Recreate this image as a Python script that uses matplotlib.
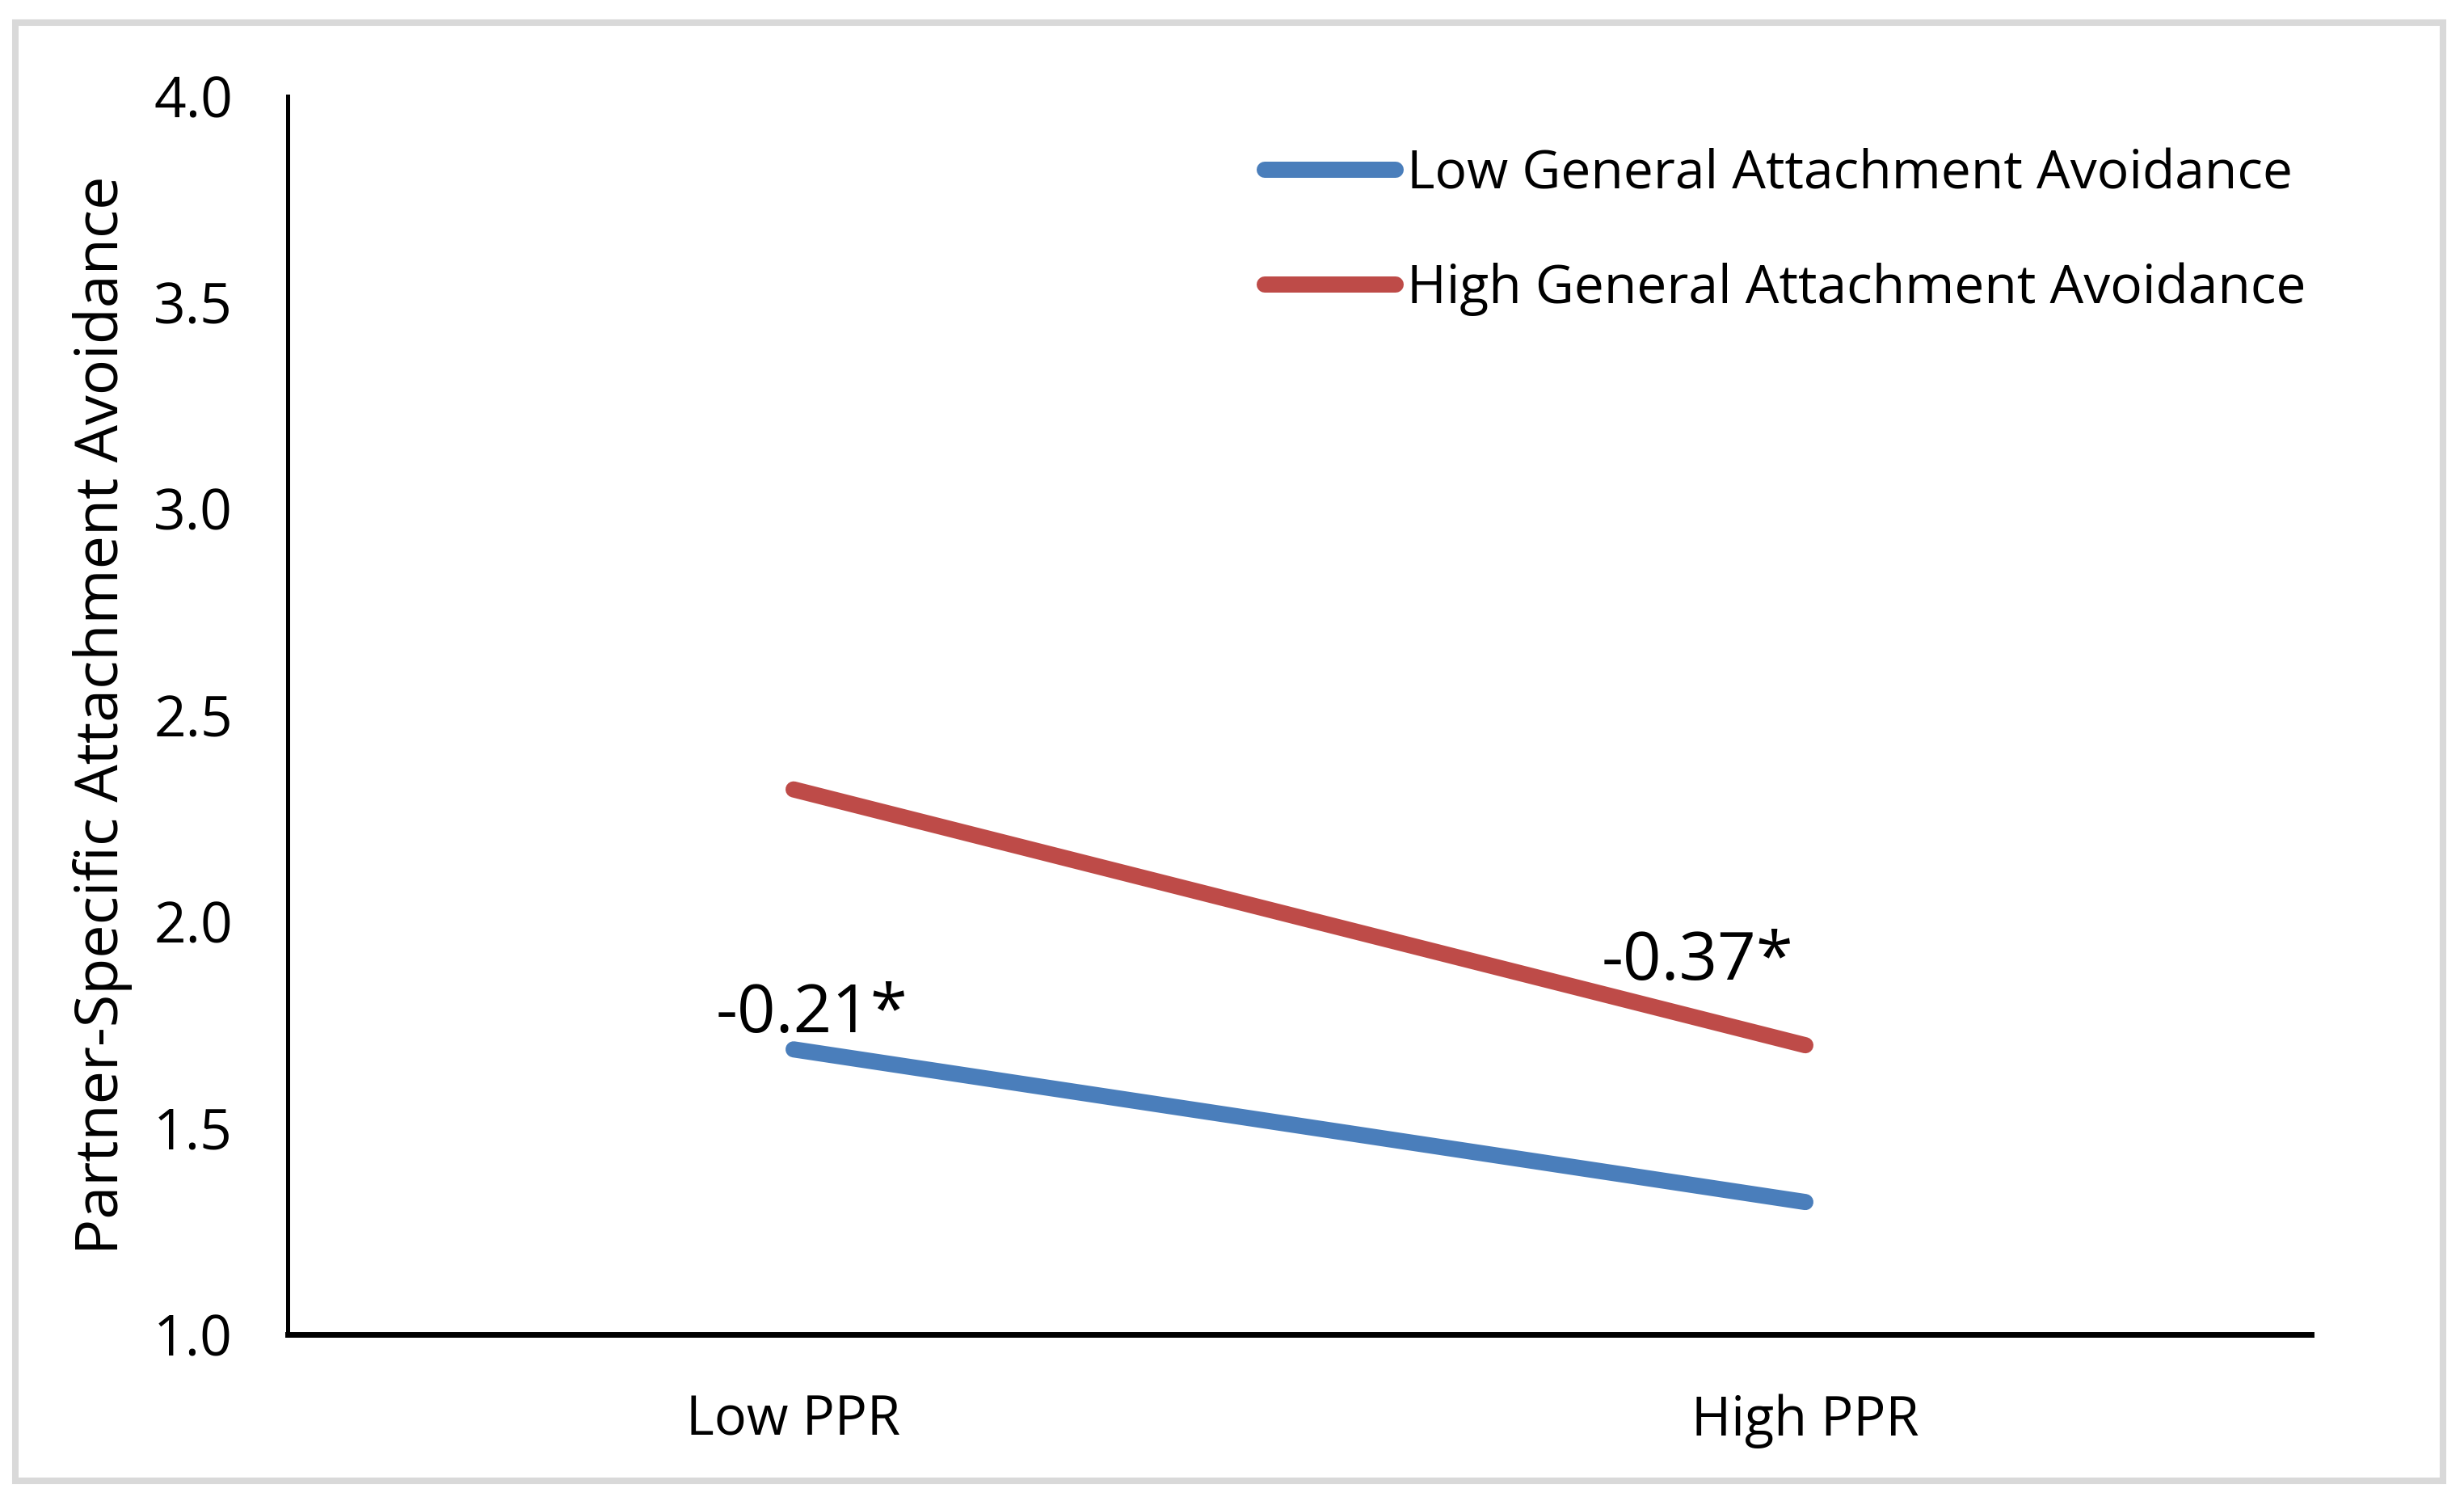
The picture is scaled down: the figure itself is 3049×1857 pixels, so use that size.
import matplotlib
matplotlib.use("Agg")
import matplotlib.pyplot as plt
from matplotlib.patches import Rectangle

# data
categories = ["Low PPR", "High PPR"]
low_avoid = [1.69, 1.32]
high_avoid = [2.32, 1.70]
series_labels = ["Low General Attachment Avoidance",
                 "High General Attachment Avoidance"]
slope_text = ["-0.21*", "-0.37*"]
slope_pos = [(0.018, 1.732), (0.893, 1.859)]
yticks = [1.0, 1.5, 2.0, 2.5, 3.0, 3.5, 4.0]

BLUE = "#4a7ebb"
RED = "#be4b48"
FONT = "Open Sans"

plt.rcParams["font.family"] = [FONT, "DejaVu Sans"]

W, H = 3049, 1857
fig = plt.figure(figsize=(W / 100, H / 100), dpi=100)
ax = fig.add_axes([356 / W, 1 - 1650.5 / H, (2860 - 356) / W, (1650.5 - 119) / H])

x = list(range(len(categories)))
ax.plot(x, low_avoid, color=BLUE, lw=14.4, solid_capstyle="round",
        label=series_labels[0], clip_on=False, zorder=3)
ax.plot(x, high_avoid, color=RED, lw=14.4, solid_capstyle="round",
        label=series_labels[1], clip_on=False, zorder=3)

for txt, (tx, ty) in zip(slope_text, slope_pos):
    ax.text(tx, ty, txt, ha="center", va="baseline", fontsize=60, color="black")

ax.set_xlim(-0.5, 1.5)
ax.set_ylim(1.0, 4.0)
ax.set_xticks(x)
ax.set_xticklabels(categories)
ax.set_yticks(yticks)
ax.set_yticklabels(["%.1f" % v for v in yticks])
ax.tick_params(axis="y", length=0, pad=49, labelsize=50)
ax.tick_params(axis="x", length=0, pad=53, labelsize=48)

for s in ["top", "right"]:
    ax.spines[s].set_visible(False)
ax.spines["left"].set_linewidth(3.6)
ax.spines["bottom"].set_linewidth(5.0)

ax.set_ylabel("Partner-Specific Attachment Avoidance", fontsize=53)
ax.yaxis.set_label_coords((164 - 356) / 2504, 0.5)

leg = ax.legend(loc="upper left", bbox_to_anchor=(1565 / W, 1 - 183 / H),
                bbox_transform=fig.transFigure, frameon=False, fontsize=47.5,
                borderpad=0, borderaxespad=0, handlelength=2.45,
                handletextpad=0.22, labelspacing=1.14)

# light grey frame round the whole chart
fig.patches.append(Rectangle((19 / W, 1 - 1832 / H), (3023 - 19) / W, (1832 - 28) / H,
                             transform=fig.transFigure, fill=False,
                             edgecolor="#d9d9d9", lw=5.8, zorder=0))

fig.savefig("out.png", dpi=100, facecolor="white")
